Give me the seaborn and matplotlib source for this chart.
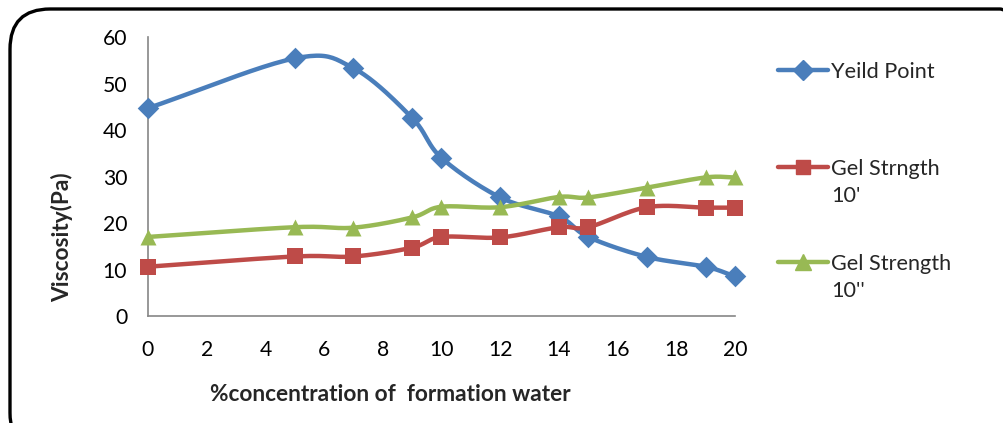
import numpy as np
import matplotlib
matplotlib.use("Agg")
import matplotlib.pyplot as plt
from matplotlib.patches import FancyBboxPatch
from matplotlib.lines import Line2D
import seaborn as sns

# ---- data ----
concentration = [0, 5, 7, 9, 10, 12, 14, 15, 17, 19, 20]
yield_point = [44.7, 55.4, 53.3, 42.6, 34.0, 25.5, 21.4, 17.0, 12.7, 10.6, 8.5]
gel_10min = [10.6, 12.8, 12.8, 14.7, 17.0, 16.9, 19.1, 19.1, 23.4, 23.3, 23.3]
gel_10sec = [17.0, 19.1, 19.0, 21.2, 23.5, 23.4, 25.6, 25.5, 27.6, 29.8, 29.8]
series_labels = [["Yeild Point"], ["Gel Strngth", "10'"], ["Gel Strength", "10''"]]
x_ticks = list(range(0, 21, 2))
y_ticks = list(range(0, 61, 10))

colors = ["#4A7EBB", "#BE4B48", "#98B954"]
markers = ["D", "s", "^"]
msizes = [11, 11, 11.5]

sns.set_style("white")
plt.rcParams["font.family"] = ["Lato", "DejaVu Sans"]


def smooth_curve(x, y, n=24):
    """Catmull-Rom style smoothing used only for drawing the connecting line."""
    x = np.asarray(x, float)
    y = np.asarray(y, float)
    px = np.concatenate([[2 * x[0] - x[1]], x, [2 * x[-1] - x[-2]]])
    py = np.concatenate([[2 * y[0] - y[1]], y, [2 * y[-1] - y[-2]]])
    xs, ys = [], []
    t = np.linspace(0, 1, n)
    for i in range(1, len(px) - 2):
        p0, p1, p2, p3 = [np.array([px[j], py[j]]) for j in (i - 1, i, i + 1, i + 2)]
        c1 = p1 + (p2 - p0) / 6.0
        c2 = p2 - (p3 - p1) / 6.0
        pts = ((1 - t) ** 3)[:, None] * p1 + (3 * (1 - t) ** 2 * t)[:, None] * c1 \
            + (3 * (1 - t) * t ** 2)[:, None] * c2 + (t ** 3)[:, None] * p2
        xs.extend(pts[:, 0])
        ys.extend(pts[:, 1])
    return np.array(xs), np.array(ys)


fig = plt.figure(figsize=(10.04, 4.23), dpi=100)
W, H = 1004, 423

# rounded border
border = FancyBboxPatch((10 / W, -30 / H), 1030 / W, (414 + 30) / H,
                        boxstyle="round,pad=0,rounding_size=0.04",
                        transform=fig.transFigure, facecolor="none",
                        edgecolor="black", linewidth=2.4, mutation_aspect=W / H)
fig.patches.append(border)

ax = fig.add_axes([148 / W, 1 - 316 / H, (735 - 148) / W, (316 - 37) / H])

all_series = [yield_point, gel_10min, gel_10sec]
for vals, c, m, ms in zip(all_series, colors, markers, msizes):
    sx, sy = smooth_curve(concentration, vals)
    sns.lineplot(x=sx, y=sy, ax=ax, color=c, linewidth=3.2, sort=False,
                 estimator=None, zorder=2)
    sns.scatterplot(x=concentration, y=vals, ax=ax, color=c, marker=m,
                    s=ms ** 2, edgecolor=c, linewidth=0, zorder=3, clip_on=False)

ax.set_xlim(0, 20)
ax.set_ylim(0, 60)
ax.set_xticks(x_ticks)
ax.set_yticks(y_ticks)
ax.set_xlabel("")
ax.set_ylabel("")
for s in ["top", "right"]:
    ax.spines[s].set_visible(False)
for s in ["left", "bottom"]:
    ax.spines[s].set_color("#868686")
    ax.spines[s].set_linewidth(1.2)
ax.tick_params(axis="both", direction="out", length=5, width=1.2, color="#868686",
               labelsize=15.2, labelcolor="black")
ax.tick_params(axis="x", pad=12)
ax.tick_params(axis="y", pad=10)

fig.text(62 / W, 1 - 237 / H, "Viscosity(Pa)", rotation=90, ha="center", va="center",
         fontsize=16.3, fontweight="bold")
fig.text(390 / W, 1 - 394 / H, "%concentration of  formation water", ha="center",
         va="center", fontsize=16.3, fontweight="bold")

# legend (drawn at the right of the plot)
leg_y = [70, 167, 262]
for (lines, c, m, ms, yy) in zip(series_labels, colors, markers, msizes, leg_y):
    yf = 1 - yy / H
    fig.add_artist(Line2D([778 / W, 828 / W], [yf, yf], transform=fig.transFigure,
                          color=c, linewidth=3.2))
    fig.add_artist(Line2D([803 / W], [yf], transform=fig.transFigure, color=c,
                          marker=m, markersize=ms * 0.95, linewidth=0))
    for k, txt in enumerate(lines):
        fig.text(831 / W, 1 - (yy + 8 + 27 * k) / H, txt, ha="left", va="baseline",
                 fontsize=15.6)

fig.savefig("out.png", dpi=100)
